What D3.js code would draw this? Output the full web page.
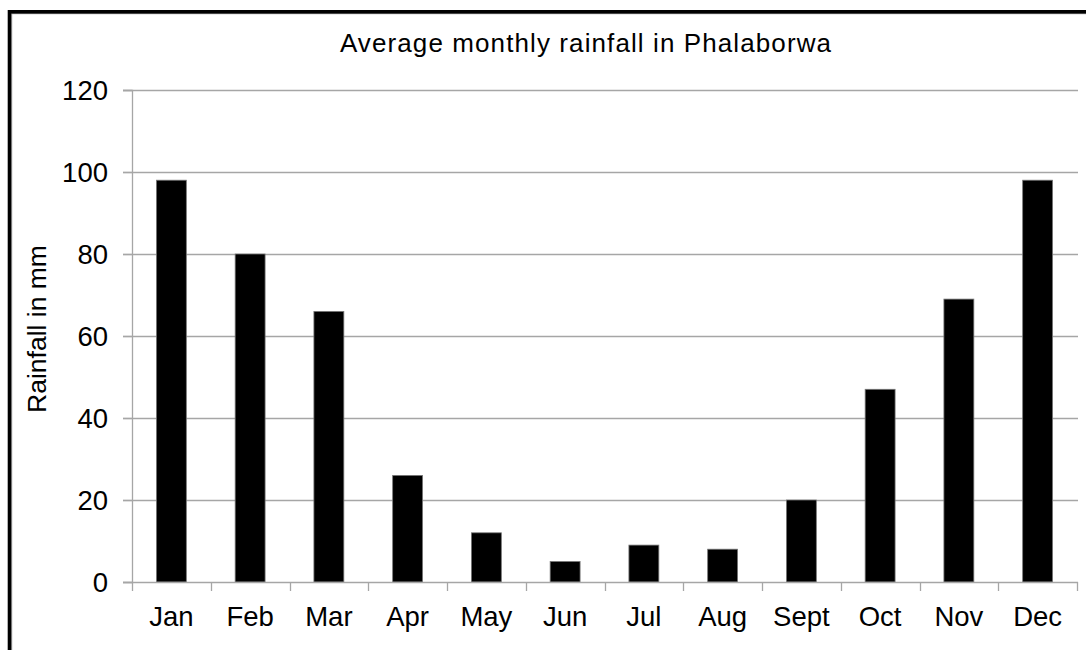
<!DOCTYPE html>
<html>
<head>
<meta charset="utf-8">
<script src="https://cdn.jsdelivr.net/npm/d3@7"></script>
<style>
  body { margin: 0; background: #fff; }
  text { font-family: "Liberation Sans", Arial, sans-serif; fill: #000; }
</style>
</head>
<body>
<div id="chart"></div>
<script>
// data
var months = ["Jan", "Feb", "Mar", "Apr", "May", "Jun", "Jul", "Aug", "Sept", "Oct", "Nov", "Dec"];
var rainfall = [98, 80, 66, 26, 12, 5, 9, 8, 20, 47, 69, 98];
var yTicks = [0, 20, 40, 60, 80, 100, 120];

var W = 1086, H = 650;
var margin = { top: 90, right: 9, bottom: 68, left: 132 };
var width = W - margin.left - margin.right,
  height = H - margin.top - margin.bottom;

var svg = d3.select("#chart").append("svg")
  .attr("width", W)
  .attr("height", H);

// outer frame (runs off the right and bottom edges)
svg.append("rect")
  .attr("x", 11.5).attr("y", 13.5)
  .attr("width", W + 20).attr("height", H + 20)
  .attr("fill", "none").attr("stroke", "#aaa").attr("stroke-width", 1.5);
svg.append("rect")
  .attr("x", 9.5).attr("y", 11.8)
  .attr("width", W + 20).attr("height", H + 20)
  .attr("fill", "none").attr("stroke", "#000").attr("stroke-width", 3.6);

var g = svg.append("g").attr("transform", "translate(" + margin.left + "," + margin.top + ")");

var x = d3.scaleBand().domain(months).range([0, width]).paddingInner(0.62).paddingOuter(0.31);
var band = d3.scaleBand().domain(months).range([0, width]);
var y = d3.scaleLinear().domain([0, 120]).range([height, 0]);

// gridlines
g.selectAll(".grid").data(yTicks.slice(1)).enter().append("line")
  .attr("x1", -9).attr("x2", width + 1)
  .attr("y1", function(d) { return Math.round(y(d)) + 0.5; })
  .attr("y2", function(d) { return Math.round(y(d)) + 0.5; })
  .attr("stroke", "#a6a6a6").attr("stroke-width", 1.3);

// bars
g.selectAll(".bar").data(rainfall).enter().append("rect")
  .attr("x", function(d, i) { return x(months[i]); })
  .attr("width", x.bandwidth())
  .attr("y", function(d) { return y(d); })
  .attr("height", function(d) { return height - y(d); })
  .attr("fill", "#000").attr("stroke", "#777").attr("stroke-width", 0.8);

// y axis
var yAxis = g.append("g")
  .call(d3.axisLeft(y).tickValues(yTicks).tickSize(9).tickPadding(15));
yAxis.select(".domain").attr("stroke", "#a6a6a6").attr("stroke-width", 1.3);
yAxis.selectAll(".tick line").attr("stroke", "#a6a6a6").attr("stroke-width", 1.3);
yAxis.selectAll(".tick text").style("font-size", "27.5px").attr("dy", "0.36em");

// x axis with ticks at band boundaries
var xAxis = g.append("g").attr("transform", "translate(0," + height + ")");
xAxis.append("line")
  .attr("x1", -9).attr("x2", width + 1)
  .attr("y1", 0.5).attr("y2", 0.5)
  .attr("stroke", "#a6a6a6").attr("stroke-width", 1.3);
xAxis.selectAll(".xt").data(months.concat(["end"])).enter().append("line")
  .attr("x1", function(d, i) { return Math.round(i * band.step()) + 0.5; })
  .attr("x2", function(d, i) { return Math.round(i * band.step()) + 0.5; })
  .attr("y1", 0).attr("y2", 9)
  .attr("stroke", "#a6a6a6").attr("stroke-width", 1.3);
xAxis.selectAll(".xl").data(months).enter().append("text")
  .attr("x", function(d) { return band(d) + band.bandwidth() / 2; })
  .attr("y", 44)
  .attr("text-anchor", "middle")
  .style("font-size", "27.5px")
  .text(function(d) { return d; });

// title
svg.append("text")
  .attr("x", 586).attr("y", 52)
  .attr("text-anchor", "middle")
  .style("font-size", "26px")
  .style("letter-spacing", "1.1px")
  .text("Average monthly rainfall in Phalaborwa");

// y axis label
svg.append("text")
  .attr("transform", "translate(46,329) rotate(-90)")
  .attr("text-anchor", "middle")
  .style("font-size", "26.5px")
  .text("Rainfall in mm");
</script>
</body>
</html>
